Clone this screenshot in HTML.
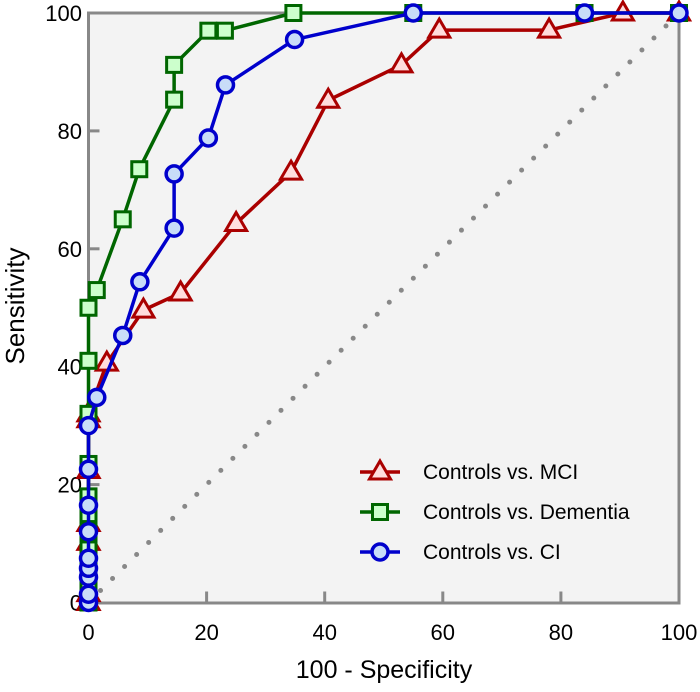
<!DOCTYPE html>
<html><head><meta charset="utf-8"><style>
html,body{margin:0;padding:0;background:#fff;}
svg{display:block;font-family:"Liberation Sans",sans-serif;}
</style></head><body>
<svg id="chart" width="700" height="692" viewBox="0 0 700 692">
<rect x="88.5" y="13" width="590.5" height="590" fill="#f3f3f3"/>
<g id="grid"></g>
<rect x="88.5" y="13" width="590.5" height="590" fill="none" stroke="#888" stroke-width="3"/>
<g id="axes"></g>
<g id="series"></g>
<text x="384" y="678" text-anchor="middle" font-size="25" fill="#000">100 - Specificity</text>
<text transform="translate(24,306) rotate(-90)" text-anchor="middle" font-size="26" fill="#000">Sensitivity</text>
<g id="legend"></g>
</svg>
<script>
const xTicks = [0,20,40,60,80,100];
const yTicks = [0,20,40,60,80,100];
const seriesNames = ["Controls vs. MCI","Controls vs. Dementia","Controls vs. CI"];
const mciX = [0,0,0,0,0,0,0,3.1,9.3,15.6,25,34.3,40.6,53,59.4,78,90.5,100];
const mciY = [0,1.5,10.2,13.4,22.4,31,32,40.6,49.6,52.5,64.3,73,85.2,91.2,97.1,97.1,100,100];
const demX = [0,0,0,0,0,0,0,0,0,0,0,1.4,5.8,8.6,14.5,14.5,20.3,23.1,34.7,55,84,100];
const demY = [0,3,6,9,12,15,18,23.5,32,41,50,53,65,73.5,85.3,91.2,97,97,100,100,100,100];
const ciX = [0,0,0,0,0,0,0,0,0,1.4,5.8,8.7,14.5,14.5,20.3,23.2,34.9,55,84,100];
const ciY = [0,1.4,4.3,5.8,7.5,12,16.5,22.6,30,34.8,45.3,54.4,63.5,72.7,78.8,87.8,95.5,100,100,100];

const NS="http://www.w3.org/2000/svg";
const X0=88.5,X1=679,Y0=602.5,Y1=13;
function sx(v){return X0+(X1-X0)*v/100;}
function sy(v){return Y0-(Y0-Y1)*v/100;}
function mk(tag,attrs,parent){const e=document.createElementNS(NS,tag);for(const k in attrs)e.setAttribute(k,attrs[k]);parent.appendChild(e);return e;}

const axes=document.getElementById('axes');
xTicks.forEach(t=>{
  if(t>0&&t<100){const l=mk('line',{x1:sx(t),x2:sx(t),y1:Y0,y2:Y0-11,stroke:'#888','stroke-width':3},axes);
  
  }
  const tx=mk('text',{x:sx(t),y:640,'text-anchor':'middle','font-size':22,fill:'#000'},axes);
  tx.textContent=t;
  
  
});
yTicks.forEach(t=>{
  if(t>0&&t<100){const l=mk('line',{x1:X0,x2:X0+11,y1:sy(t),y2:sy(t),stroke:'#888','stroke-width':3},axes);
  
  }
  const tx=mk('text',{x:82,y:sy(t)+8,'text-anchor':'end','font-size':22,fill:'#000'},axes);
  tx.textContent=t;
  
  
});

const grid=document.getElementById('grid');
const diag=mk('line',{x1:sx(0),y1:sy(0),x2:sx(100),y2:sy(100),stroke:'#888','stroke-width':5,'stroke-linecap':'round','stroke-dasharray':'0 17'},grid);



function marker(type,x,y,g,stroke,fill){
  let e;
  if(type==='tri'){e=mk('polygon',{points:`${x},${y-11} ${x+10.5},${y+7} ${x-10.5},${y+7}`,fill:fill,stroke:stroke,'stroke-width':3,'stroke-linejoin':'miter'},g);}
  else if(type==='sq'){e=mk('rect',{x:x-7.5,y:y-7.5,width:15,height:15,fill:fill,stroke:stroke,'stroke-width':3},g);}
  else {e=mk('circle',{cx:x,cy:y,r:8,fill:fill,stroke:stroke,'stroke-width':3.5},g);}
  return e;
}
const series=document.getElementById('series');
const defs=[[mciX,mciY,'tri','#aa0000','#ffdddd','mci'],[demX,demY,'sq','#006600','#ccffcc','dementia'],[ciX,ciY,'circ','#0000cc','#c8dcf8','ci']];
defs.forEach(([xs,ys,type,st,fi,nm])=>{
  const g=mk('g',{},series);
  
  
  const pts=xs.map((v,i)=>sx(v)+','+sy(ys[i])).join(' ');
  const pl=mk('polyline',{points:pts,fill:'none',stroke:st,'stroke-width':3.5,'stroke-linejoin':'round'},g);
  
  
  xs.forEach((v,i)=>{
    const m=marker(type,sx(v),sy(ys[i]),g,st,fi);
    
    
  });
});

const legend=document.getElementById('legend');
defs.forEach(([xs,ys,type,st,fi,nm],i)=>{
  const y=472+i*40;
  const g=mk('g',{},legend);
  
  
  mk('line',{x1:360,x2:400,y1:y,y2:y,stroke:st,'stroke-width':3.5},g);
  marker(type,380,y,g,st,fi);
  const t=mk('text',{x:423,y:y+7,'font-size':21,fill:'#000'},g);
  t.textContent=seriesNames[i];
});
</script>
</body></html>
